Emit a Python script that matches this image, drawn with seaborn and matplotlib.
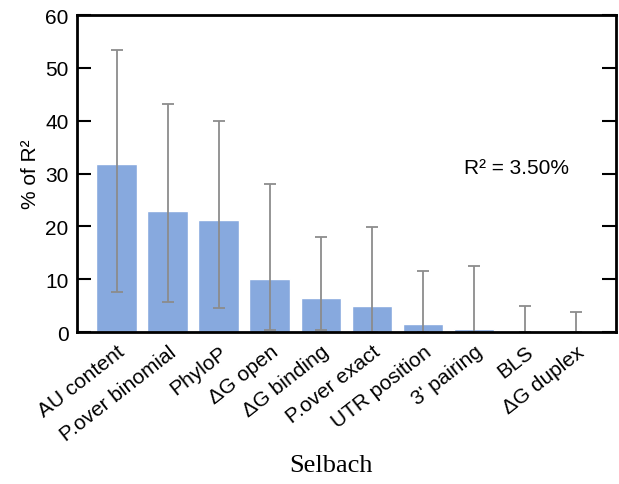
import matplotlib
matplotlib.use("Agg")
import matplotlib.pyplot as plt
import numpy as np
import pandas as pd
import seaborn as sns

# datos
features = ["AU content", "P.over binomial", "PhyloP", "ΔG open", "ΔG binding",
            "P.over exact", "UTR position", "3' pairing", "BLS", "ΔG duplex"]
pct_r2 = [31.8, 22.9, 21.2, 10.0, 6.4, 4.9, 1.5, 0.6, 0.2, 0.0]
err_low = [7.6, 5.7, 4.5, 0.3, 0.3, 0.0, 0.0, 0.0, 0.0, 0.0]
err_high = [53.4, 43.2, 39.9, 28.0, 18.0, 19.9, 11.5, 12.5, 5.0, 3.8]
r2_total = "R² = 3.50%"

df = pd.DataFrame({"feature": features, "pct": pct_r2})

sns.set_style("white")
plt.rcParams["font.family"] = ["Liberation Sans", "DejaVu Sans"]
plt.rcParams["text.color"] = "black"
plt.rcParams["axes.labelcolor"] = "black"
plt.rcParams["xtick.color"] = "black"
plt.rcParams["ytick.color"] = "black"

fig = plt.figure(figsize=(6.19, 4.85), dpi=100)
ax = fig.add_axes([0.1244, 0.3134, 0.8706, 0.6536])

sns.barplot(data=df, x="feature", y="pct", color="#87a9de", saturation=1,
            width=0.8, ax=ax)

# barras de error asimetricas
pos = np.arange(len(features))
vals = np.array(pct_r2)
yerr = [vals - np.array(err_low), np.array(err_high) - vals]
ax.errorbar(pos, vals, yerr=yerr, fmt="none", ecolor="#8c8c8c", elinewidth=1.3,
            capsize=4, capthick=1.3)

ax.set_xlim(-0.78, 9.78)
ax.set_ylim(0, 60)
ax.set_yticks([0, 10, 20, 30, 40, 50, 60])
ax.set_ylabel("% of R²", fontsize=15, labelpad=4)
ax.set_xlabel("Selbach", fontsize=19, family="Liberation Serif")
ax.xaxis.set_label_coords(0.471, -0.385)

ax.tick_params(axis="y", which="both", direction="in", length=10, width=1.5,
               left=True, right=True, labelsize=15, pad=6)
ax.tick_params(axis="x", length=0, labelsize=15, pad=7)
plt.setp(ax.get_xticklabels(), rotation=38, ha="right", rotation_mode="anchor")

for s in ax.spines.values():
    s.set_linewidth(2)
    s.set_color("black")

ax.text(7.84, 31.2, r2_total, fontsize=15, ha="center", va="center")

fig.savefig("out.png", dpi=100)
